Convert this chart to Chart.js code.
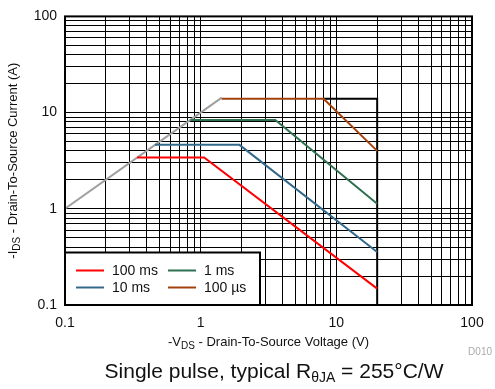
<!DOCTYPE html>
<html>
<head>
<meta charset="utf-8">
<script src="https://cdn.jsdelivr.net/npm/chart.js@4/dist/chart.umd.min.js"></script>
<style>
  body { margin: 0; background: #fff; }
  #wrap { position: relative; width: 495px; height: 389px; font-family: "Liberation Sans", Arial, sans-serif; }
  #soa { position: absolute; left: 0; top: 0; }
  #caption { position: absolute; left: 0; top: 359px; width: 548px; text-align: center; font-size: 21px; line-height: 24px; color: #111; }
  #caption sub { font-size: 14px; vertical-align: -4px; line-height: 0; }
  #code { position: absolute; right: 3px; top: 346px; font-size: 10px; color: #aaa; }
</style>
</head>
<body>
<div id="wrap">
  <canvas id="soa" width="495" height="389"></canvas>
  <div id="caption">Single pulse, typical R<sub>θJA</sub> = 255°C/W</div>
  <div id="code">D010</div>
</div>
<script>
// tick / grid values (log decades)
const decades = [0.1, 1, 10];
const multipliers = [1, 2, 3, 4, 5, 6, 7, 8, 9];
const xTickValues = [0.1, 1, 10, 100];
const xTickLabels = ['0.1', '1', '10', '100'];
const yTickValues = [0.1, 1, 10, 100];
const yTickLabels = ['0.1', '1', '10', '100'];

// Rds(on) limit line
const limitV = [0.1, 1.43];
const limitI = [1, 14.3];
// package / Vds boundary
const boundV = [8.05, 20, 20];
const boundI = [13.9, 13.9, 0.1];
// pulse curves
const v100ms = [0.34, 1.06, 20];
const i100ms = [3.41, 3.41, 0.148];
const v10ms = [0.46, 1.93, 20];
const i10ms = [4.62, 4.62, 0.355];
const v1ms = [0.84, 3.55, 20];
const i1ms = [8.4, 8.4, 1.13];
const v100us = [1.43, 8.05, 20];
const i100us = [13.9, 13.9, 4.0];

const gridValues = [];
decades.forEach(d => multipliers.forEach(m => gridValues.push(d * m)));
gridValues.push(100);

function pts(xs, ys) {
  return xs.map((x, i) => ({ x: x, y: ys[i] }));
}

function line(label, xs, ys, color, inLegend) {
  return {
    label: label,
    data: pts(xs, ys),
    showLine: true,
    borderColor: color,
    backgroundColor: color,
    borderWidth: 2,
    pointRadius: 0,
    fill: false,
    inLegend: inLegend
  };
}

const FONT = '"Liberation Sans", Arial, sans-serif';

function drawRich(ctx, parts, size, x, y) {
  const subSize = Math.round(size * 0.75);
  let total = 0;
  parts.forEach(p => {
    ctx.font = (p.sub ? subSize : size) + 'px ' + FONT;
    p.w = ctx.measureText(p.t).width;
    total += p.w;
  });
  let cx = x - total / 2;
  ctx.textBaseline = 'middle';
  ctx.textAlign = 'left';
  parts.forEach(p => {
    ctx.font = (p.sub ? subSize : size) + 'px ' + FONT;
    ctx.fillText(p.t, cx, p.sub ? y + 4 : y);
    cx += p.w;
  });
}

const decorations = {
  id: 'decorations',
  afterDatasetsDraw(chart) {
    const ctx = chart.ctx;
    const a = chart.chartArea;
    ctx.save();

    // legend box, lower left of plot
    const bx = a.left, by = 252.5, bw = 195, bh = a.bottom - 252.5;
    ctx.fillStyle = '#fff';
    ctx.fillRect(bx, by, bw, bh);
    ctx.strokeStyle = '#000';
    ctx.lineWidth = 2;
    ctx.strokeRect(bx, by, bw, bh);
    const items = chart.data.datasets.filter(d => d.inLegend);
    const cols = [bx + 11, bx + 103];
    const rows = [by + 18, by + 35];
    ctx.font = '14px ' + FONT;
    ctx.textBaseline = 'middle';
    ctx.textAlign = 'left';
    items.forEach((d, i) => {
      const x = cols[i % 2];
      const y = rows[Math.floor(i / 2)];
      ctx.strokeStyle = d.borderColor;
      ctx.lineWidth = 2;
      ctx.beginPath();
      ctx.moveTo(x, y);
      ctx.lineTo(x + 28, y);
      ctx.stroke();
      ctx.fillStyle = '#111';
      ctx.fillText(d.label, x + 36, y + 1);
    });

    // plot frame
    ctx.strokeStyle = '#000';
    ctx.lineWidth = 2;
    ctx.strokeRect(a.left, a.top, a.right - a.left, a.bottom - a.top);

    // axis titles
    ctx.fillStyle = '#111';
    drawRich(ctx, [{ t: '-V' }, { t: 'DS', sub: true }, { t: ' - Drain-To-Source Voltage (V)' }],
      13, (a.left + a.right) / 2, 342);
    ctx.save();
    ctx.translate(13, (a.top + a.bottom) / 2);
    ctx.rotate(-Math.PI / 2);
    drawRich(ctx, [{ t: '-I' }, { t: 'DS', sub: true }, { t: ' - Drain-To-Source Current (A)' }],
      13, 0, 0);
    ctx.restore();
    ctx.restore();
  }
};

function setTicks(scale) {
  scale.ticks = gridValues.map(v => ({ value: v }));
}

const ctx = document.getElementById('soa').getContext('2d');
new Chart(ctx, {
  type: 'scatter',
  data: {
    datasets: [
      line('100 ms', v100ms, i100ms, '#ff0000', true),
      line('1 ms', v1ms, i1ms, '#2f7050', true),
      line('10 ms', v10ms, i10ms, '#336a8c', true),
      line('100 µs', v100us, i100us, '#a3420c', true),
      line('limit', limitV, limitI, '#a0a0a0', false),
      line('bound', boundV, boundI, '#000000', false)
    ]
  },
  plugins: [decorations],
  options: {
    responsive: false,
    animation: false,
    events: [],
    layout: { padding: { left: 0, right: 23, top: 16, bottom: 0 } },
    plugins: {
      legend: { display: false },
      tooltip: { enabled: false }
    },
    scales: {
      x: {
        type: 'logarithmic',
        min: 0.1,
        max: 100,
        afterBuildTicks: setTicks,
        afterFit: s => { s.height = 84; },
        border: { display: false },
        grid: { color: '#000', lineWidth: 1, drawTicks: false },
        ticks: {
          autoSkip: false,
          maxRotation: 0,
          padding: 10,
          color: '#111',
          font: { family: FONT, size: 14 },
          callback: v => {
            const k = xTickValues.findIndex(t => Math.abs(t - v) < 1e-9);
            return k >= 0 ? xTickLabels[k] : '';
          }
        }
      },
      y: {
        type: 'logarithmic',
        min: 0.1,
        max: 100,
        afterBuildTicks: setTicks,
        afterFit: s => { s.width = 65; },
        border: { display: false },
        grid: { color: '#000', lineWidth: 1, drawTicks: false },
        ticks: {
          autoSkip: false,
          padding: 8,
          color: '#111',
          font: { family: FONT, size: 14 },
          callback: v => {
            const k = yTickValues.findIndex(t => Math.abs(t - v) < 1e-9);
            return k >= 0 ? yTickLabels[k] : '';
          }
        }
      }
    }
  }
});
</script>
</body>
</html>
